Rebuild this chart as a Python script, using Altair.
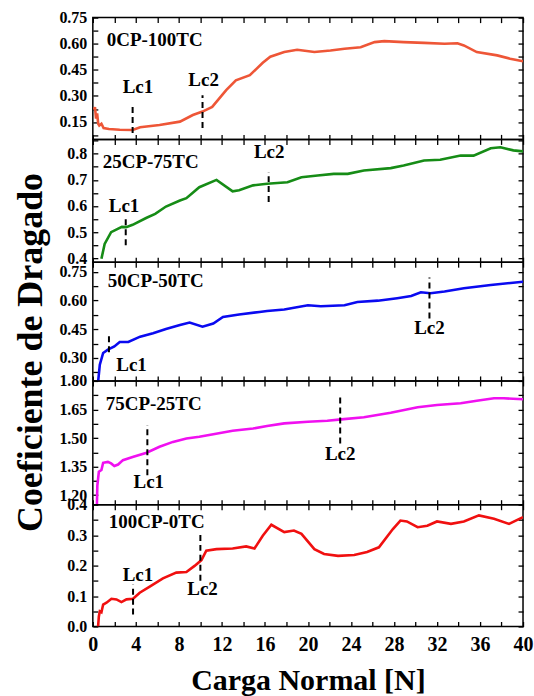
import altair as alt
import pandas as pd

FONT = "Liberation Serif"

# ---------------- data ----------------
panel_names = ["0CP-100TC", "25CP-75TC", "50CP-50TC", "75CP-25TC", "100CP-0TC"]

p1_x = [0.1, 0.2, 0.3, 0.4, 0.5, 0.6, 0.8, 1.0, 1.5, 2.5, 3.7, 4.4, 6.2, 8.1, 9.3, 10.2, 11.1, 12.4,
        13.3, 14.6, 15.8, 16.5, 17.8, 19.0, 20.6, 22.1, 23.4, 24.9, 26.2, 27.1, 28.9, 30.8, 32.7,
        33.9, 34.5, 35.7, 37.6, 38.8, 40.0]
p1_y = [0.22, 0.235, 0.17, 0.20, 0.14, 0.13, 0.14, 0.115, 0.11, 0.105, 0.104, 0.12, 0.133, 0.152,
        0.19, 0.21, 0.237, 0.333, 0.39, 0.419, 0.49, 0.525, 0.552, 0.565, 0.552, 0.561, 0.571,
        0.58, 0.609, 0.615, 0.609, 0.605, 0.60, 0.603, 0.59, 0.552, 0.533, 0.514, 0.499]

p2_x = [0.8, 1.1, 1.7, 2.7, 3.1, 3.7, 5.0, 5.8, 6.8, 8.1, 8.7, 9.9, 11.5, 13.0, 13.6, 14.9, 16.2,
        18.1, 19.4, 20.9, 22.4, 23.7, 25.2, 27.7, 28.9, 30.8, 32.3, 34.2, 35.4, 37.0, 37.9, 39.1, 40.0]
p2_y = [0.398, 0.455, 0.50, 0.52, 0.519, 0.528, 0.555, 0.57, 0.598, 0.621, 0.63, 0.672, 0.70,
        0.656, 0.66, 0.679, 0.685, 0.691, 0.71, 0.717, 0.723, 0.723, 0.736, 0.745, 0.755, 0.774,
        0.777, 0.793, 0.793, 0.821, 0.825, 0.813, 0.809]

p3_x = [0.5, 0.65, 0.96, 1.4, 2.0, 2.5, 3.3, 4.4, 5.6, 6.8, 8.1, 9.0, 10.2, 11.2, 12.1, 13.6, 15.5,
        16.2, 17.8, 20.0, 21.2, 23.4, 24.6, 26.5, 28.3, 29.6, 30.5, 31.4, 32.7, 34.5, 37.0, 40.0]
p3_y = [0.18, 0.265, 0.326, 0.343, 0.36, 0.383, 0.383, 0.411, 0.429, 0.451, 0.472, 0.485, 0.463,
        0.48, 0.514, 0.527, 0.54, 0.545, 0.553, 0.575, 0.57, 0.575, 0.592, 0.599, 0.612, 0.623,
        0.643, 0.638, 0.647, 0.664, 0.681, 0.698]

p4_x = [0.38, 0.42, 0.56, 0.8, 0.96, 1.4, 1.7, 2.0, 2.35, 2.8, 3.7, 5.0, 6.2, 7.45, 8.7, 9.9, 11.2,
        13.0, 14.9, 16.2, 17.8, 20.0, 21.8, 23.1, 25.2, 27.7, 30.2, 32.0, 34.2, 35.7, 37.3, 38.2, 40.0]
p4_y = [1.15, 1.25, 1.323, 1.332, 1.37, 1.375, 1.367, 1.353, 1.361, 1.384, 1.40, 1.423, 1.454,
        1.48, 1.498, 1.507, 1.52, 1.538, 1.55, 1.563, 1.577, 1.586, 1.591, 1.598, 1.609, 1.633,
        1.662, 1.674, 1.683, 1.696, 1.709, 1.709, 1.704]

p5_x = [0.49, 0.56, 0.65, 0.8, 0.96, 1.27, 1.73, 2.2, 2.66, 3.13, 3.74, 4.36, 5.29, 6.52, 7.76, 8.7,
        9.46, 10.1, 10.55, 11.5, 13.0, 14.26, 15.03, 15.8, 16.6, 17.8, 18.7, 19.4, 20.6, 21.5, 22.8,
        24.3, 25.5, 26.6, 27.9, 28.6, 29.2, 30.2, 31.1, 32.0, 33.3, 34.5, 35.9, 37.3, 38.7, 40.0]
p5_y = [0.0, 0.033, 0.05, 0.047, 0.072, 0.078, 0.091, 0.089, 0.08, 0.089, 0.091, 0.111, 0.131,
        0.158, 0.177, 0.179, 0.199, 0.218, 0.249, 0.254, 0.256, 0.263, 0.256, 0.298, 0.334, 0.31,
        0.315, 0.304, 0.254, 0.238, 0.232, 0.235, 0.245, 0.26, 0.32, 0.348, 0.345, 0.326, 0.331,
        0.345, 0.337, 0.345, 0.365, 0.354, 0.337, 0.359]

series_x = [p1_x, p2_x, p3_x, p4_x, p5_x]
series_y = [p1_y, p2_y, p3_y, p4_y, p5_y]

# Lc markers: x position, dash from y1 to y2, label position
lc_labels = [["Lc1", "Lc2"]] * 5
lc_x = [[3.7, 10.2], [3.06, 16.35], [1.5, 31.3], [5.07, 23.0], [3.74, 10.0]]
lc_y1 = [[0.087, 0.116], [0.45, 0.615], [0.33, 0.506], [1.305, 1.472], [0.039, 0.15]]
lc_y2 = [[0.241, 0.304], [0.56, 0.73], [0.43, 0.72], [1.568, 1.726], [0.138, 0.304]]
lc_tx = [[4.2, 10.3], [2.9, 16.4], [3.6, 31.3], [5.2, 23.0], [4.2, 10.2]]
lc_ty = [[0.35, 0.39], [0.60, 0.805], [0.265, 0.455], [1.27, 1.416], [0.168, 0.124]]

# y axes: domain, tick start, tick step, label step, format
y_domains = [[0.05, 0.75], [0.385, 0.855], [0.18, 0.80], [1.15, 1.80], [0.0, 0.40]]
y_tick_start = [0.075, 0.40, 0.225, 1.20, 0.0]
y_tick_step = [0.075, 0.05, 0.075, 0.075, 0.05]
y_label_step = [0.15, 0.1, 0.15, 0.15, 0.1]
y_formats = [".2f", ".1f", ".2f", ".2f", ".1f"]

x_ticks = list(range(0, 41, 2))

# ---------------- styles ----------------
colors = ["#EE5637", "#168C16", "#0A0AF0", "#F010F0", "#F01010"]
heights = [122, 123, 119, 124, 122]
name_pos = [(14, 22), (10, 23), (15, 19), (13, 23), (16, 17)]
WIDTH = 431
TICK = 5


def make_panel(i):
    bottom = i == 4
    df = pd.DataFrame({"x": series_x[i], "y": series_y[i]})
    lc = pd.DataFrame({"x": lc_x[i], "y1": lc_y1[i], "y2": lc_y2[i],
                       "tx": lc_tx[i], "ty": lc_ty[i], "label": lc_labels[i]})
    xs = alt.Scale(domain=[0, 40], nice=False, zero=False)
    ys = alt.Scale(domain=y_domains[i], nice=False, zero=False)
    lo, hi = y_domains[i]
    yt = []
    k = 0
    while y_tick_start[i] + k * y_tick_step[i] <= hi + 1e-9:
        yt.append(round(y_tick_start[i] + k * y_tick_step[i], 4))
        k += 1
    ls = y_label_step[i]
    label_expr = (f"abs(datum.value/{ls} - round(datum.value/{ls})) < 0.001 ? datum.label : ''")

    bottom_kwargs = dict(
        orient="bottom", values=x_ticks, offset=-TICK, tickSize=TICK, tickWidth=1.3,
        tickColor="black", domain=False, grid=False, labels=bottom,
        labelExpr="datum.value % 4 == 0 ? datum.label : ''", labelFlush=False,
        labelOverlap=False, labelFont=FONT, labelFontSize=20, labelFontWeight="bold",
        labelColor="black", labelPadding=8,
    )
    if bottom:
        bottom_kwargs.update(title="Carga Normal [N]", titleFont=FONT, titleFontSize=30,
                             titleFontWeight="bold", titleColor="black", titlePadding=11)
    else:
        bottom_kwargs.update(title=None)
    bottom_axis = alt.Axis(**bottom_kwargs)
    top_axis = alt.Axis(orient="top", values=x_ticks, offset=-TICK, tickSize=TICK,
                        tickWidth=1.3, tickColor="black", domain=False, grid=False,
                        labels=False, title=None)
    left_axis = alt.Axis(orient="left", values=yt, offset=-TICK, tickSize=TICK, tickWidth=1.3,
                         tickColor="black", domain=False, grid=False, format=y_formats[i],
                         labelExpr=label_expr, labelOverlap=False, labelFlush=False,
                         labelFont=FONT, labelFontSize=16, labelFontWeight="bold",
                         labelColor="black", labelPadding=6, title=None)
    right_axis = alt.Axis(orient="right", values=yt, offset=-TICK, tickSize=TICK, tickWidth=1.3,
                          tickColor="black", domain=False, grid=False, labels=False, title=None)

    line = alt.Chart(df).mark_line(color=colors[i], strokeWidth=2.6, clip=True).encode(
        x=alt.X("x:Q", scale=xs, axis=bottom_axis),
        y=alt.Y("y:Q", scale=ys, axis=left_axis),
        order="x:Q",
    )
    rules = alt.Chart(lc).mark_rule(color="black", strokeDash=[6, 4], strokeWidth=2).encode(
        x=alt.X("x:Q", scale=xs, axis=top_axis),
        y=alt.Y("y1:Q", scale=ys, axis=right_axis),
        y2="y2:Q",
    )
    texts = alt.Chart(lc).mark_text(font=FONT, fontSize=19, fontWeight="bold", color="black",
                                    align="center", baseline="middle").encode(
        x=alt.X("tx:Q", scale=xs, axis=None),
        y=alt.Y("ty:Q", scale=ys, axis=None),
        text="label:N",
    )
    name = alt.Chart(pd.DataFrame({"name": [panel_names[i]]})).mark_text(
        font=FONT, fontSize=19, fontWeight="bold", color="black", align="left",
        baseline="middle").encode(
        x=alt.value(name_pos[i][0]), y=alt.value(name_pos[i][1]), text="name:N")

    return alt.layer(line, rules, texts, name).resolve_axis(
        x="independent", y="independent").properties(width=WIDTH, height=heights[i])


panels = [make_panel(i) for i in range(5)]

chart = alt.vconcat(*panels, spacing=0, bounds="flush").properties(
    title=alt.TitleParams("Coeficiente de Dragado", orient="left", anchor="middle",
                          font=FONT, fontSize=36, fontWeight="bold", color="black", offset=8),
    padding={"left": 13, "top": 8, "right": 0, "bottom": 0},
    background="white",
).configure_view(stroke="black", strokeWidth=1.5)

chart.save("out.html", embed_options={"renderer": "svg", "actions": False})
